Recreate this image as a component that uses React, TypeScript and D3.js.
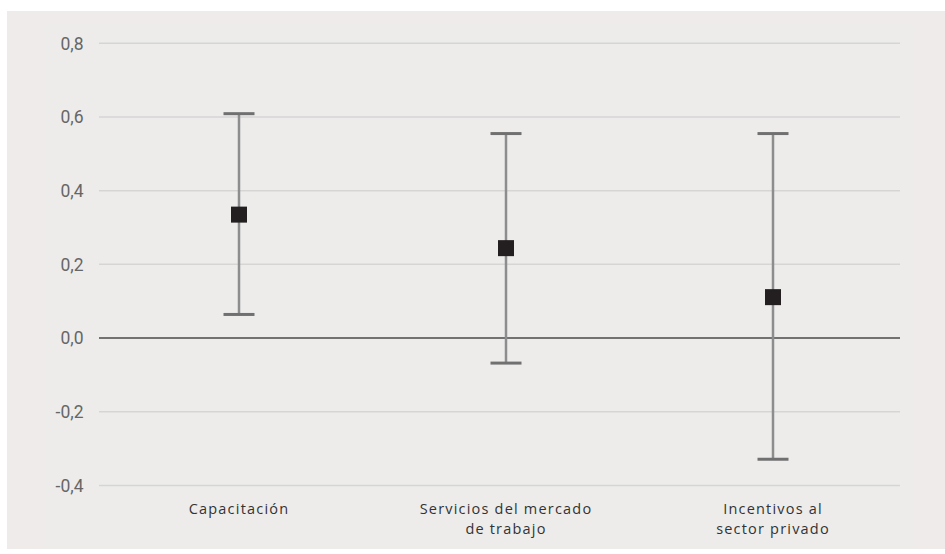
import React from "react";
import * as d3 from "d3";

// Program categories (label lines) and estimated effects with confidence bounds
const categories = ["Capacitación", "Servicios del mercado de trabajo", "Incentivos al sector privado"];
const categoryLines = [["Capacitación"], ["Servicios del mercado", "de trabajo"], ["Incentivos al", "sector privado"]];
const estimates = [0.335, 0.244, 0.111];
const lowerBounds = [0.064, -0.068, -0.329];
const upperBounds = [0.609, 0.555, 0.555];
const yTicks = [-0.4, -0.2, 0, 0.2, 0.4, 0.6, 0.8];

const W = 945;
const H = 554;

export default function App() {
  const y = d3.scaleLinear().domain([-0.4, 0.8]).range([485.4, 43.3]);
  const x = d3.scalePoint<string>().domain(categories).range([239, 773]);
  const fmt = (v: number) => d3.format(".1f")(v).replace(".", ",").replace("−", "-");
  const capHalf = 15.5;
  const sq = 16;

  return (
    <svg width={W} height={H} style={{ position: "absolute", left: 0, top: 0 }}>
      <rect x={0} y={0} width={W} height={H} fill="#ffffff" />
      <rect x={7} y={11} width={W - 7} height={538} fill="#efebea" />
      <rect x={45} y={23} width={868} height={526} fill="#edeceb" />

      {yTicks.map((t) => (
        <g key={t}>
          <line
            x1={99}
            x2={900}
            y1={y(t)}
            y2={y(t)}
            stroke={t === 0 ? "#727272" : "#d6d5d4"}
            strokeWidth={t === 0 ? 2 : 1.5}
          />
          <text
            x={83.5}
            y={y(t)}
            dy="0.36em"
            textAnchor="end"
            fontFamily="Roboto, sans-serif"
            fontSize={17.5}
            fill="#666666"
          >
            {fmt(t)}
          </text>
        </g>
      ))}

      {categories.map((c, i) => {
        const cx = x(c) as number;
        return (
          <g key={c}>
            <line x1={cx} x2={cx} y1={y(upperBounds[i])} y2={y(lowerBounds[i])} stroke="#8d8d8d" strokeWidth={2.5} />
            <line x1={cx - capHalf} x2={cx + capHalf} y1={y(upperBounds[i])} y2={y(upperBounds[i])} stroke="#707070" strokeWidth={3} />
            <line x1={cx - capHalf} x2={cx + capHalf} y1={y(lowerBounds[i])} y2={y(lowerBounds[i])} stroke="#707070" strokeWidth={3} />
            <rect x={cx - sq / 2} y={y(estimates[i]) - sq / 2} width={sq} height={sq} fill="#231f20" />
            {categoryLines[i].map((line, j) => (
              <text
                key={j}
                x={cx}
                y={509 + j * 20}
                dy="0.35em"
                textAnchor="middle"
                fontFamily="'Open Sans', sans-serif"
                fontSize={14.5}
                letterSpacing={1.2}
                fill="#333333"
              >
                {line}
              </text>
            ))}
          </g>
        );
      })}
    </svg>
  );
}
